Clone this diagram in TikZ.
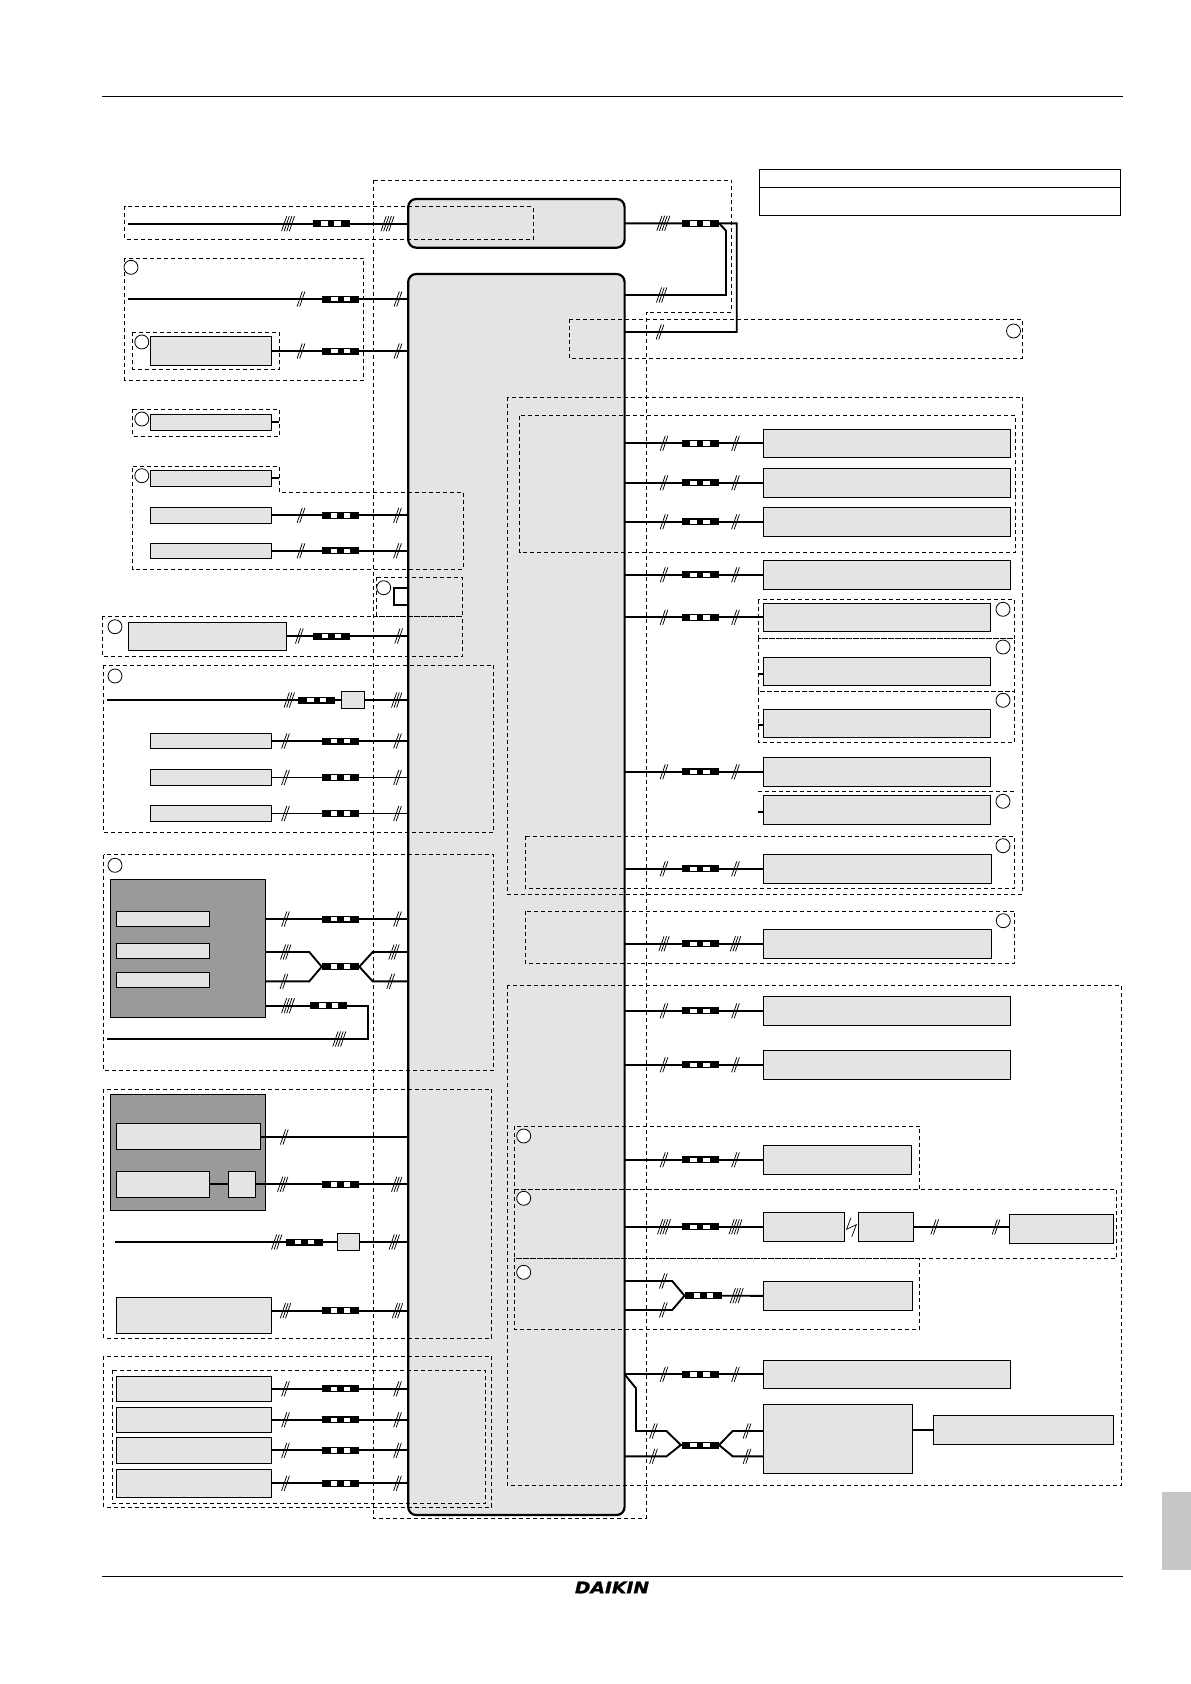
\documentclass[tikz,border=0pt]{standalone}
\usepackage{fontspec}
\setmainfont{Liberation Sans}
\newfontfamily\logofont[BoldItalicFeatures={FakeBold=1.2}]{DejaVu Sans}
\usetikzlibrary{positioning,calc}
\definecolor{unitgrey}{HTML}{E4E4E4}
\definecolor{darkgrey}{HTML}{9A9A9A}
\definecolor{tabgrey}{HTML}{C6C6C6}
\tikzset{
    wire/.style={line width=1.9pt},
    region/.style={line width=0.75pt, dash pattern=on 4pt off 3pt},
    unit/.style={draw, line width=1pt, fill=unitgrey, inner sep=0pt, outer sep=0pt},
    board/.style={unit, line width=2.2pt, rounded corners=8pt},
    housing/.style={unit, fill=darkgrey},
    legendbox/.style={unit, fill=none},
    tagmark/.style={circle, draw, line width=0.8pt, fill=white, minimum size=14pt, inner sep=0pt},
    pics/plug/.style={code={
        \fill (-18.5,-3.5) rectangle (18.5,3.5);
        \fill[white] (-9.6,-2.3) rectangle (-3.2,2.3);
        \fill[white] (3.2,-2.3) rectangle (9.6,2.3);
    }},
    pics/slash/.style={code={
        \foreach \k in {1,...,#1}{
            \pgfmathsetmacro{\off}{(\k-(#1+1)/2)*2.6}
            \draw[line width=0.75pt] ({\off-2.6},7.5) -- ({\off+2.6},-7.5);
        }
    }},
}
% box given by its corners, in pixels of the sheet
\newcommand{\unitbox}[6][unit]{\node[#1, anchor=north west, minimum width={(#5-#3)*1pt}, minimum height={(#6-#4)*1pt}] (#2) at (#3,#4) {};}
% run from a point on the left to the board
\newcommand{\leftrun}[3]{
    \draw[wire] (#1) -- (#1 -| main.west);
    \path (#1 -| slashA) pic {slash=#2} (#1 -| plugA) pic {plug} (#1 -| slashB) pic {slash=#3};
}
% run from the board to a point on the right
\newcommand{\rightrun}[3]{
    \draw[wire] (main.east |- #1) -- (#1);
    \path (#1 -| slashC) pic {slash=#2} (#1 -| plugB) pic {plug} (#1 -| slashD) pic {slash=#3};
}
\begin{document}
\begin{tikzpicture}[x=1pt, y=-1pt]
    \useasboundingbox (0,0) rectangle (1191,1684);
    \coordinate (slashA) at (285.5,0);
    \coordinate (plugA) at (340.5,0);
    \coordinate (slashB) at (397.5,0);
    \coordinate (slashC) at (664,0);
    \coordinate (plugB) at (700,0);
    \coordinate (slashD) at (735.5,0);

    % sheet
    \draw[line width=1pt] (102,96.7) -- (1123,96.7);
    \draw[line width=1pt] (102,1576) -- (1123,1576);
    \fill[tabgrey] (1162,1492) rectangle (1191,1570);
    \node[inner sep=0pt] (logo) at (612,1587.5) {\scalebox{1.17}[1]{\fontsize{16}{16}\selectfont\logofont\bfseries\itshape DAIKIN}};

    % boards
    \unitbox[board]{top}{408.2}{199}{624.6}{247.7}
    \unitbox[board]{main}{408.2}{274}{624.6}{1515}

    % dashed regions
    \draw[region] (373.6,180) -- (731.4,180) -- (731.4,312) -- (646.5,312) -- (646.5,1518) -- (373.6,1518) -- cycle;
    \draw[region] (124.6,206.3) rectangle (532.9,239.3);
    \draw[region] (124.6,258.3) rectangle (363.6,380.3);
    \draw[region] (132.5,332.3) rectangle (279.3,369.3);
    \draw[region] (132.5,409.3) rectangle (279.3,436.3);
    \draw[region] (132.5,466.3) -- (279.3,466.3) -- (279.3,492.3) -- (462.9,492.3) -- (462.9,569.3) -- (132.5,569.3) -- cycle;
    \draw[region] (376.3,577.3) rectangle (462.3,616.3);
    \draw[region] (102.3,616.3) rectangle (462.3,656.7);
    \draw[region] (103.7,665.3) rectangle (493.7,832.7);
    \draw[region] (103.7,854.7) rectangle (493.7,1070.3);
    \draw[region] (103.7,1089.3) rectangle (491.7,1338.3);
    \draw[region] (103.7,1356.3) rectangle (491.7,1507.3);
    \draw[region] (112.3,1370.3) rectangle (485.7,1503.3);
    \draw[region] (569.4,319.3) rectangle (1022.4,358.3);
    \draw[region] (507.3,397.3) rectangle (1022.4,894.3);
    \draw[region] (519.6,415.7) rectangle (1015.5,552.3);
    \draw[region] (758.3,599.7) rectangle (1014.5,638.3);
    \draw[region] (758.3,638.3) rectangle (1014.5,691.3);
    \draw[region] (758.3,691.3) rectangle (1014.5,742.3);
    \draw[region] (758.3,791.3) -- (1014.5,791.3);
    \draw[region] (525.1,836.3) rectangle (1014.5,888.3);
    \draw[region] (525.3,911) rectangle (1014.7,963.3);
    \draw[region] (507.3,985.3) rectangle (1121.6,1485.3);
    \draw[region] (514.3,1126.3) rectangle (919.6,1189.7);
    \draw[region] (514.3,1189.7) rectangle (1116.7,1258.3);
    \draw[region] (514.3,1258.3) rectangle (919.6,1329.3);

    % legend
    \unitbox[legendbox]{legendhead}{759.6}{169.3}{1120.4}{187.3}
    \unitbox[legendbox]{legendbody}{759.6}{187.3}{1120.4}{215.3}

    % units on the left
    \unitbox{sensorA}{150.7}{336.3}{271.4}{365.7}
    \unitbox{sensorB}{150.7}{414.3}{271.4}{430.3}
    \unitbox{sensorC}{150.7}{470.3}{271.4}{486.3}
    \unitbox{sensorD}{150.7}{507.3}{271.4}{523.3}
    \unitbox{sensorE}{150.7}{543.3}{271.4}{558.3}
    \unitbox{inputA}{128.3}{622.3}{286.7}{650.3}
    \unitbox{filterA}{341.3}{691.3}{364.7}{708.7}
    \unitbox{pumpA}{150.3}{733.3}{271.7}{748.7}
    \unitbox{pumpB}{150.3}{769.3}{271.7}{785.7}
    \unitbox{pumpC}{150.3}{805.3}{271.7}{821.7}
    \unitbox[housing]{housingA}{110.3}{879.3}{265.7}{1017.3}
    \unitbox{insetA}{116.3}{911.3}{209.7}{926.3}
    \unitbox{insetB}{116.3}{943.3}{209.7}{958.3}
    \unitbox{insetC}{116.3}{972.3}{209.7}{987.3}
    \unitbox[housing]{housingB}{110.3}{1094.3}{265.7}{1210.3}
    \unitbox{insetD}{116.3}{1123.3}{260.7}{1149.3}
    \unitbox{insetE}{116.3}{1171.3}{209.7}{1197.3}
    \unitbox{insetF}{228.3}{1171.3}{255.7}{1197.3}
    \unitbox{filterB}{337.3}{1233.3}{359.3}{1250.7}
    \unitbox{inputB}{116.3}{1297.3}{271.7}{1333.3}
    \unitbox{optionA}{116.3}{1376.3}{271.7}{1401.3}
    \unitbox{optionB}{116.3}{1407.3}{271.7}{1432.3}
    \unitbox{optionC}{116.3}{1437.3}{271.7}{1463.3}
    \unitbox{optionD}{116.3}{1469.3}{271.7}{1497.3}

    % units on the right
    \unitbox{outA}{763.3}{429.3}{1010.6}{457.3}
    \unitbox{outB}{763.3}{468.3}{1010.6}{497.3}
    \unitbox{outC}{763.3}{507.3}{1010.6}{536.3}
    \unitbox{outD}{763.3}{560.3}{1010.7}{589.3}
    \unitbox{outE}{763.3}{603.3}{990.7}{631.3}
    \unitbox{outF}{763.3}{657.3}{990.7}{685.3}
    \unitbox{outG}{763.3}{709.3}{990.7}{737.3}
    \unitbox{outH}{763.3}{757.3}{990.7}{786.3}
    \unitbox{outJ}{763.3}{795.3}{990.7}{824.3}
    \unitbox{outK}{763.3}{854.3}{991.7}{883.3}
    \unitbox{outL}{763.3}{929.3}{991.7}{958.3}
    \unitbox{outM}{763.3}{996.3}{1010.6}{1025.3}
    \unitbox{outN}{763.3}{1050.3}{1010.6}{1079.3}
    \unitbox{outP}{763.3}{1145.3}{911.4}{1174.3}
    \unitbox{outQ}{763.3}{1212.3}{844.5}{1241.3}
    \unitbox{outR}{858.4}{1212.3}{913.5}{1241.3}
    \unitbox{outS}{1009.4}{1214.3}{1113.5}{1243.3}
    \unitbox{outT}{763.3}{1281.3}{912.7}{1310.3}
    \unitbox{outU}{763.3}{1360.3}{1010.6}{1388.3}
    \unitbox{outV}{763.3}{1404.3}{912.7}{1473.3}
    \unitbox{outW}{933.5}{1415.3}{1113.5}{1444.3}

    % tags
    \foreach \name/\x/\y in {tagA/131/267.3, tagB/141.8/342, tagC/141.8/419, tagD/141.8/475.7, tagE/383.7/587.7, tagF/115/626.7, tagG/115/676, tagH/115/865.3, tagJ/1013.5/331, tagK/1003/609.3, tagL/1003/647, tagM/1003/700.3, tagN/1003/801.3, tagP/1003/845.7, tagQ/1003.3/920.7, tagR/523.7/1136, tagS/523.7/1198.3, tagT/523.7/1272.3}
        \node[tagmark] (\name) at (\x,\y) {};

    % free ends and tapped points
    \coordinate (endA) at (128,223.7);
    \coordinate (endB) at (128,299);
    \coordinate (endC) at (107,700);
    \coordinate (endD) at (115.3,1242);
    \coordinate (endE) at (107,1039);
    \coordinate (tapA) at (265.7,919);
    \coordinate (tapB) at (260.7,1137);
    \coordinate (tapC) at (271.7,1310.7);

    % runs to the left of the board
    \draw[wire] (endA) -- (endA -| top.west);
    \path (288,223.7) pic {slash=4} (331,223.7) pic {plug} (387.5,223.7) pic {slash=4};
    \draw[wire] (endB) -- (endB -| main.west);
    \path (301,299) pic {slash=2} (340.7,299) pic {plug} (398,299) pic {slash=2};
    \draw[wire] (sensorA.east) -- (sensorA.east -| main.west);
    \path (301,351) pic {slash=2} (340.7,351) pic {plug} (398,351) pic {slash=2};
    \draw[wire] (sensorB.east) -- ++(7.9,0);
    \draw[wire] (sensorC.east) -- ++(7.9,0);
    \foreach \b in {sensorD,sensorE}{
        \draw[wire] (\b.east) -- (\b.east -| main.west);
        \path (\b.east -| slashA) ++(15.5,0) pic {slash=2} (\b.east -| plugA) pic {plug} (\b.east -| slashB) pic {slash=2};
    }
    \draw[wire] (409,588) -- (394,588) -- (394,605) -- (409,605);
    \draw[wire] (inputA.east) -- (inputA.east -| main.west);
    \path (299.3,636) pic {slash=2} (331.3,636) pic {plug} (398.7,636) pic {slash=2};
    \draw[wire] (endC) -- (filterA.west);
    \draw[wire] (filterA.east) -- (filterA.east -| main.west);
    \path (289.3,700) pic {slash=3} (316.7,700) pic {plug} (396.7,700) pic {slash=3};
    \foreach \b in {pumpA,pumpB,pumpC}{\leftrun{\b.east}{2}{2}}
    \leftrun{tapA}{2}{2}
    \draw[wire] (265.7,952) -- (309.3,952) -- (321.7,966.7) -- (359.3,966.7) -- (372.7,952) -- (408.2,952);
    \draw[wire] (265.7,981.3) -- (309.3,981.3) -- (321.7,966.7) (359.3,966.7) -- (372.7,981.3) -- (408.2,981.3);
    \path (285.7,952) pic {slash=3} (284,981.3) pic {slash=2} (340.5,966.7) pic {plug} (394,952) pic {slash=3} (390.7,981.3) pic {slash=2};
    \draw[wire] (265.7,1005.7) -- (368,1005.7) -- (368,1039) -- (endE);
    \path (288,1005.7) pic {slash=4} (328.7,1005.7) pic {plug} (339.3,1039) pic {slash=4};
    \draw[wire] (tapB) -- (tapB -| main.west);
    \path (284.3,1137) pic {slash=2};
    \draw[wire] (insetE.east) -- (insetF.west);
    \draw[wire] (insetF.east) -- (insetF.east -| main.west);
    \path (282.7,1184.3) pic {slash=3} (340.5,1184.3) pic {plug} (396.7,1184.3) pic {slash=3};
    \draw[wire] (endD) -- (filterB.west);
    \draw[wire] (filterB.east) -- (filterB.east -| main.west);
    \path (276.7,1242) pic {slash=3} (304.3,1242) pic {plug} (394.3,1242) pic {slash=3};
    \leftrun{tapC}{3}{3}
    \foreach \b in {optionA,optionB,optionC,optionD}{\leftrun{\b.east}{2}{2}}

    % runs to the right of the board
    \draw[wire] (top.east) -- (736.7,223.3) -- (736.7,332) -- (main.east |- 0,332);
    \draw[wire] (main.east |- 0,295) -- (726,295) -- (726,230.7) -- (719,223.3);
    \path (663.3,223.3) pic {slash=4} (700,223.3) pic {plug} (661.6,295) pic {slash=3} (660,332) pic {slash=2};
    \foreach \b in {outA,outB,outC,outD,outE,outH,outM,outN,outP,outU,outK}{\rightrun{\b.west}{2}{2}}
    \rightrun{outL.west}{3}{3}
    \rightrun{outQ.west}{4}{4}
    \draw[wire] (outF.west |- 0,674) -- ++(-5,0);
    \draw[wire] (outG.west |- 0,725) -- ++(-5,0);
    \draw[wire] (outJ.west |- 0,812) -- ++(-5,0);
    \draw[line width=0.7pt] (851,1217.7) -- (846.5,1229.3) -- (856.3,1224.7) -- (851.8,1236.7);
    \draw[wire] (outR.east) -- (outS.west |- outR.east);
    \path (934.7,1227) pic {slash=2} (996,1227) pic {slash=2};
    \draw[wire] (main.east |- 0,1281) -- (672.2,1281) -- (684.5,1295.7);
    \draw[wire] (main.east |- 0,1310) -- (672.2,1310) -- (684.5,1295.7);
    \draw[wire] (684.5,1295.7) -- (outT.west);
    \path (663.3,1281) pic {slash=2} (663.3,1310) pic {slash=2} (703.3,1295.7) pic {plug} (736.7,1295.7) pic {slash=4};
    \draw[wire] (main.east |- outU.west) -- (636,1388.3) -- (636,1431) -- (666.5,1431) -- (680.8,1445) -- (719,1445) -- (732.7,1431) -- (763.3,1431);
    \draw[wire] (main.east |- 0,1456.3) -- (666.5,1456.3) -- (680.8,1445) (719,1445) -- (732.7,1456.3) -- (763.3,1456.3);
    \path (653.5,1431) pic {slash=2} (653.5,1456.3) pic {slash=2} (700,1445) pic {plug} (747,1431) pic {slash=2} (747,1456.3) pic {slash=2};
    \draw[wire] (outV.east |- outW.west) -- (outW.west);
\end{tikzpicture}
\end{document}
